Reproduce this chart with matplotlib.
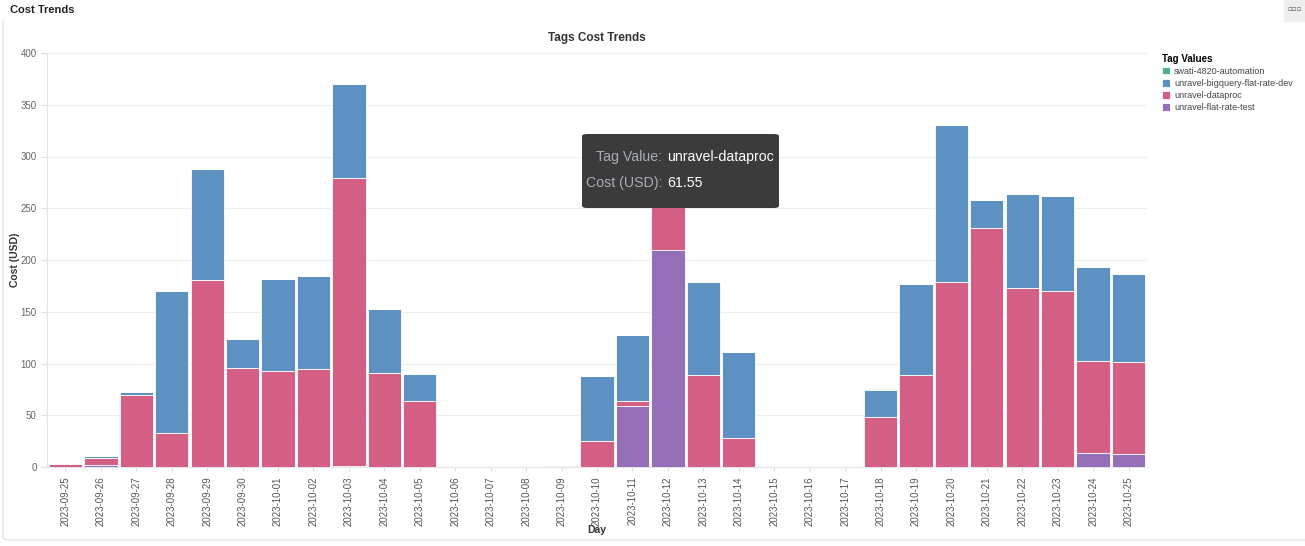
import matplotlib
matplotlib.use("Agg")
import matplotlib.pyplot as plt
from matplotlib.patches import FancyBboxPatch, Rectangle
import numpy as np

plt.rcParams['font.family'] = ['Liberation Sans', 'DejaVu Sans']

# Data
days = ['2023-09-25', '2023-09-26', '2023-09-27', '2023-09-28', '2023-09-29', '2023-09-30',
        '2023-10-01', '2023-10-02', '2023-10-03', '2023-10-04', '2023-10-05', '2023-10-06',
        '2023-10-07', '2023-10-08', '2023-10-09', '2023-10-10', '2023-10-11', '2023-10-12',
        '2023-10-13', '2023-10-14', '2023-10-15', '2023-10-16', '2023-10-17', '2023-10-18',
        '2023-10-19', '2023-10-20', '2023-10-21', '2023-10-22', '2023-10-23', '2023-10-24',
        '2023-10-25']
flat_rate_test = [0, 1.5, 0, 0, 0, 0, 0, 0, 1.2, 0, 0, 0, 0, 0, 0.6, 0, 59, 210,
                  0, 0, 0, 0, 0, 0, 0, 0, 0, 0, 0, 14, 13]
dataproc = [3, 7.5, 70, 33, 181, 96, 93, 95, 278, 91, 64, 0, 0, 0, 1.2, 25, 4.5, 61.55,
            89, 28, 0, 0, 0, 48, 89, 179, 231, 173, 170, 88, 88]
bigquery_dev = [1.2, 2, 2, 137, 107, 28, 89, 90, 91, 62, 26, 0, 0, 0, 0, 63, 64, 25,
                90, 83, 0, 0, 0, 26, 88, 151, 27, 91, 92, 91, 85]
automation = [0, 0, 0, 0, 0, 0, 0, 0, 0, 0, 0, 0, 0, 0, 0, 0, 0, 0,
              0, 0, 0, 0, 0, 1.5, 0, 0, 0, 0, 0, 0, 0]

series = [
    ('unravel-flat-rate-test', flat_rate_test, '#9570b8'),
    ('unravel-dataproc', dataproc, '#d45f85'),
    ('unravel-bigquery-flat-rate-dev', bigquery_dev, '#5d91c1'),
    ('swati-4820-automation', automation, '#4cb38f'),
]

W, H = 1305, 546
fig = plt.figure(figsize=(W / 100, H / 100), dpi=100)
ax = fig.add_axes([47 / W, 1 - 467 / H, 1100 / W, 414 / H])

x = np.arange(len(days))
bottom = np.zeros(len(days))
for name, vals, col in series:
    vals = np.array(vals, dtype=float)
    ax.bar(x, vals, bottom=bottom, width=0.94, color=col, edgecolor='white',
           linewidth=0.6, label=name, zorder=3)
    bottom += vals

ax.set_xlim(-0.52, len(days) - 0.48)
ax.set_ylim(0, 400)
ax.set_yticks(range(0, 401, 50))
ax.set_xticks(x)
ax.set_xticklabels(days, rotation=90, fontsize=7, color='#555555')
ax.tick_params(axis='y', labelsize=7, colors='#666666', length=4, color='#dddddd')
ax.tick_params(axis='x', length=3, color='#dddddd')
ax.grid(axis='y', color='#eeeeee', linewidth=0.8, zorder=0)
for side in ['top', 'right']:
    ax.spines[side].set_visible(False)
for side in ['left', 'bottom']:
    ax.spines[side].set_color('#e4e4e4')

ax.set_title('Tags Cost Trends', fontsize=8.5, fontweight='bold', color='#333333', pad=9)
fig.text(597 / W, 1 - 530 / H, 'Day', fontsize=7.5, fontweight='bold',
         color='#333333', ha='center', va='center')
fig.text(15 / W, 1 - 260 / H, 'Cost (USD)', fontsize=7.5, fontweight='bold',
         color='#333333', rotation=90, ha='center', va='center')

# legend (order as in reference)
handles, labels = ax.get_legend_handles_labels()
order = [3, 2, 1, 0]
leg = fig.legend([handles[i] for i in order], [labels[i] for i in order],
                 loc='upper left', bbox_to_anchor=(1158 / W, 1 - 50 / H),
                 frameon=False, fontsize=6.5, title='Tag Values',
                 title_fontproperties={'weight': 'bold', 'size': 7},
                 handlelength=0.9, handleheight=0.9, handletextpad=0.5,
                 labelspacing=0.35, alignment='left', borderaxespad=0)
for t in leg.get_texts():
    t.set_color('#444444')

# panel frame and header
fig.patches.append(FancyBboxPatch((3 / W, 6 / H), 1320 / W, 560 / H,
                                  boxstyle='round,pad=0,rounding_size=0.006',
                                  transform=fig.transFigure, fill=False,
                                  edgecolor='#dcdcdc', linewidth=0.8))
fig.patches.append(Rectangle((0, 1 - 20 / H), 1, 20 / H, transform=fig.transFigure,
                             facecolor='white', edgecolor='none'))
fig.text(10 / W, 1 - 10 / H, 'Cost Trends', fontsize=8, fontweight='bold',
         color='#222222', va='center', ha='left')
fig.patches.append(Rectangle((1284 / W, 1 - 22 / H), 21 / W, 22 / H,
                             transform=fig.transFigure, facecolor='#eeeeee',
                             edgecolor='none'))
fig.text(1294 / W, 1 - 9 / H, '▫▫▫', fontsize=5, color='#555555',
         ha='center', va='center', family=['DejaVu Sans'])

# tooltip
fig.patches.append(FancyBboxPatch((582 / W, 1 - 208 / H), 197 / W, 74 / H,
                                  boxstyle='round,pad=0,rounding_size=0.004',
                                  transform=fig.transFigure, facecolor='#3b3b3b',
                                  edgecolor='none', zorder=10))
fig.text(662 / W, 1 - 157 / H, 'Tag Value:', fontsize=10.2, color='#a8adb8',
         ha='right', va='center', zorder=11)
fig.text(667 / W, 1 - 157 / H, 'unravel-dataproc', fontsize=10.2, color='white',
         ha='left', va='center', zorder=11)
fig.text(662 / W, 1 - 183 / H, 'Cost (USD):', fontsize=10.2, color='#a8adb8',
         ha='right', va='center', zorder=11)
fig.text(667 / W, 1 - 183 / H, '61.55', fontsize=10.2, color='white',
         ha='left', va='center', zorder=11)

fig.savefig('out.png', dpi=100)
